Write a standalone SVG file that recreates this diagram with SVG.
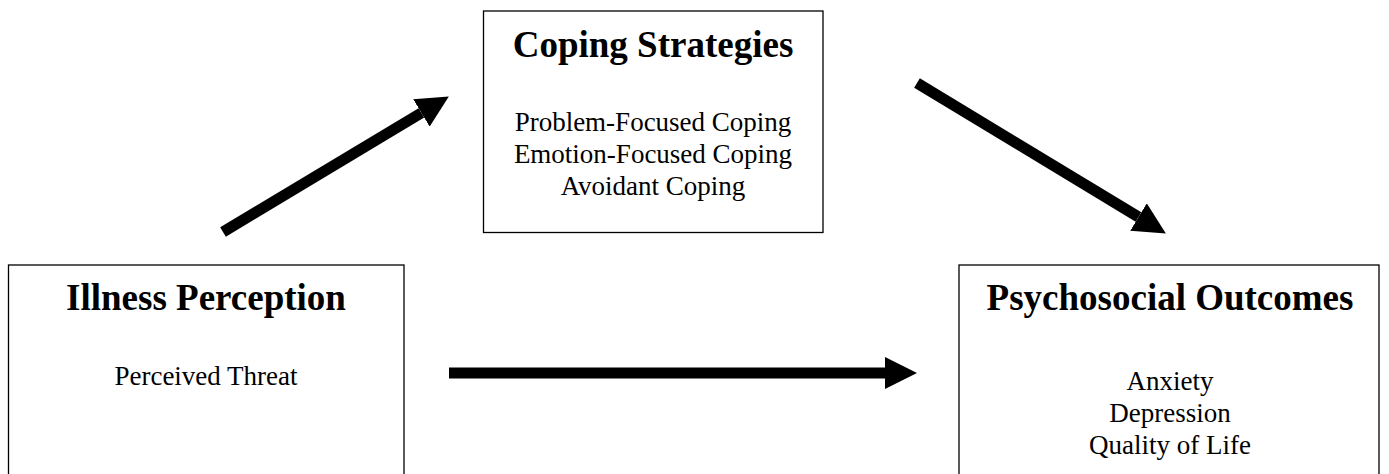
<svg xmlns="http://www.w3.org/2000/svg" width="1389" height="474" viewBox="0 0 1389 474">
<style>
.box{fill:#fff;stroke:#000;stroke-width:1.3}
.title{font-family:"Liberation Serif","Times New Roman",serif;font-weight:bold;font-size:37px;text-anchor:middle;fill:#000}
.body{font-family:"Liberation Serif","Times New Roman",serif;font-size:27px;text-anchor:middle;fill:#000}
.conn{stroke:#000;stroke-width:11;fill:none;marker-end:url(#head)}
</style>
<defs>
<marker id="head" markerUnits="userSpaceOnUse" markerWidth="32" markerHeight="32" refX="0" refY="15.5" orient="auto" viewBox="0 0 31 31">
<path d="M0,0 L31,15.5 L0,31 Z" fill="#000"/>
</marker>
</defs>
<rect width="1389" height="474" fill="#fff"/>
<g id="coping">
<rect class="box" x="483.5" y="11" width="339.5" height="221.5"/>
<text class="title" x="653" y="57">Coping Strategies</text>
<text class="body" x="653" y="131">Problem-Focused Coping</text>
<text class="body" x="653" y="163">Emotion-Focused Coping</text>
<text class="body" x="653" y="195">Avoidant Coping</text>
</g>
<g id="illness">
<rect class="box" x="8.5" y="265" width="395.5" height="220"/>
<text class="title" x="206" y="310">Illness Perception</text>
<text class="body" x="206" y="385">Perceived Threat</text>
</g>
<g id="outcomes">
<rect class="box" x="959" y="265" width="420" height="220"/>
<text class="title" x="1170" y="310">Psychosocial Outcomes</text>
<text class="body" x="1170" y="390">Anxiety</text>
<text class="body" x="1170" y="422">Depression</text>
<text class="body" x="1170" y="454">Quality of Life</text>
</g>
<g id="connectors">
<line class="conn" x1="223" y1="232" x2="421.4" y2="112.9"/>
<line class="conn" x1="917" y1="83" x2="1138.5" y2="217"/>
<line class="conn" x1="449" y1="373" x2="885" y2="373"/>
</g>
</svg>
